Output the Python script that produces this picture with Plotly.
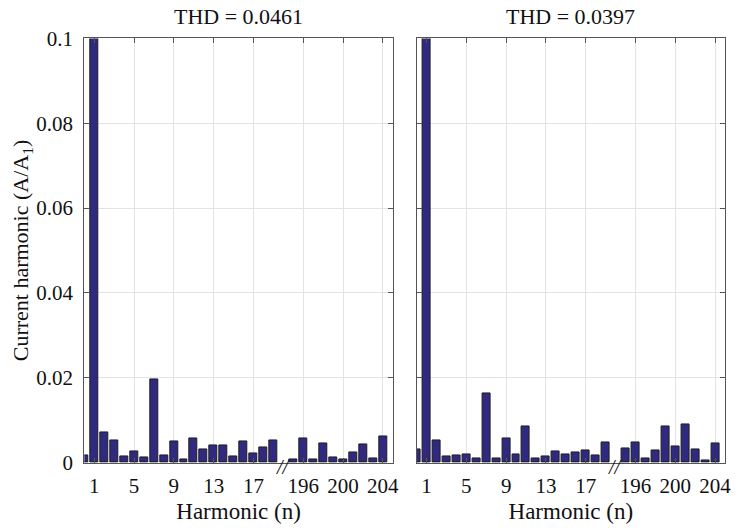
import plotly.graph_objects as go

# ---------------- data ----------------
harm_low = list(range(0, 20))          # harmonics 0..19
harm_high = list(range(195, 205))      # harmonics 195..204
harmonics = harm_low + harm_high

left_vals = [0.0017, 1.0, 0.0070, 0.0052, 0.0015, 0.0026, 0.0013, 0.0197, 0.0016, 0.0051,
             0.0008, 0.0058, 0.0032, 0.0041, 0.0041, 0.0015, 0.0051, 0.0021, 0.0036, 0.0052,
             0.0008, 0.0057, 0.0008, 0.0045, 0.0012, 0.0008, 0.0023, 0.0043, 0.0011, 0.0061]
right_vals = [0.0031, 1.0, 0.0052, 0.0014, 0.0016, 0.0019, 0.0011, 0.0164, 0.0010, 0.0056,
              0.0020, 0.0086, 0.0011, 0.0015, 0.0027, 0.0020, 0.0024, 0.0029, 0.0016, 0.0047,
              0.0034, 0.0047, 0.0011, 0.0029, 0.0086, 0.0037, 0.0089, 0.0032, 0.0006, 0.0045]
titles = ["THD = 0.0461", "THD = 0.0397"]
tick_harmonics = [1, 5, 9, 13, 17, 196, 200, 204]
y_ticks = [0, 0.02, 0.04, 0.06, 0.08, 0.1]
y_ticktext = ["0", "0.02", "0.04", "0.06", "0.08", "0.1"]

GAP = 174   # compression of the broken x-axis (195 -> slot 21, slot 20 = break)


def pos(h):
    return h if h < 100 else h - GAP


BREAK_POS = 20

FONT = "Liberation Serif, DejaVu Serif, serif"
BAR_COLOR = "#2f2a80"
EDGE = "#1e1e1e"
AX = "#555555"
GRID = "#e3e3e3"

fig = go.Figure()
xs = [pos(h) for h in harmonics]
fig.add_trace(go.Bar(x=xs, y=left_vals, width=0.8, marker=dict(color=BAR_COLOR, line=dict(color=EDGE, width=1)),
                     xaxis="x", yaxis="y", showlegend=False))
fig.add_trace(go.Bar(x=xs, y=right_vals, width=0.8, marker=dict(color=BAR_COLOR, line=dict(color=EDGE, width=1)),
                     xaxis="x2", yaxis="y2", showlegend=False))

W, H = 738, 530
dom1 = [85 / W, 396 / W]
dom2 = [420 / W, 731 / W]
ydom = [1 - 472 / H, 1 - 27.7 / H]

xcommon = dict(range=[0, 31], tickvals=[pos(h) for h in tick_harmonics],
               ticktext=[str(h) for h in tick_harmonics], ticks="inside", ticklen=5,
               tickcolor=AX, showline=True, linecolor=AX, linewidth=1, mirror="ticks",
               showgrid=True, gridcolor=GRID, gridwidth=1, zeroline=False,
               ticklabelstandoff=4,
               tickfont=dict(family=FONT, size=21, color="#111"),
               title=dict(text="Harmonic (n)", font=dict(family=FONT, size=23, color="#111"), standoff=6))
ycommon = dict(range=[0, 0.1], tickvals=y_ticks, ticks="inside", ticklen=5,
               tickcolor=AX, showline=True, linecolor=AX, linewidth=1, mirror="ticks",
               showgrid=True, gridcolor=GRID, gridwidth=1, zeroline=False,
               tickfont=dict(family=FONT, size=21, color="#111"))

fig.update_layout(
    width=W, height=H, margin=dict(l=0, r=0, t=0, b=0),
    font=dict(family=FONT, color="#111"),
    paper_bgcolor="white", plot_bgcolor="white", bargap=0,
    xaxis=dict(domain=dom1, anchor="y", **xcommon),
    xaxis2=dict(domain=dom2, anchor="y2", **xcommon),
    yaxis=dict(domain=ydom, anchor="x", ticktext=y_ticktext, showticklabels=True,
               ticklabelstandoff=6,
               title=dict(text="Current harmonic (A/A<sub>1</sub>)", font=dict(family=FONT, size=22, color="#111"),
                          standoff=1),
               **ycommon),
    yaxis2=dict(domain=ydom, anchor="x2", showticklabels=False, **ycommon),
)

for i, (t, d) in enumerate(zip(titles, [dom1, dom2])):
    fig.add_annotation(x=(d[0] + d[1]) / 2, y=ydom[1], xref="paper", yref="paper",
                       text=t, showarrow=False, xanchor="center", yanchor="bottom", yshift=7,
                       font=dict(family=FONT, size=22, color="#111"))
    xr = "x" if i == 0 else "x2"
    yr = "y" if i == 0 else "y2"
    fig.add_annotation(x=BREAK_POS, y=0, xref=xr, yref=yr, text="<i>//</i>", showarrow=False,
                       xanchor="center", yanchor="middle", yshift=-4,
                       font=dict(family=FONT, size=20, color="#111"))

fig.write_html("out.html")
